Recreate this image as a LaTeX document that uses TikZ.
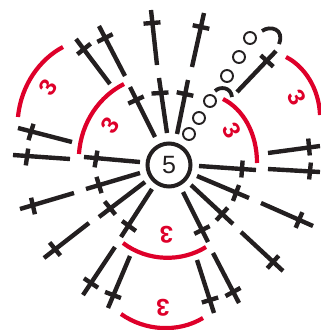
\documentclass[tikz,border=0pt]{standalone}
\usepackage{fontspec}
\setmainfont{Liberation Sans}
\usetikzlibrary{calc}
\definecolor{inkblack}{RGB}{35,31,32}
\definecolor{inkred}{RGB}{222,0,42}
\tikzset{
	stitchline/.style={draw=inkblack, line width=4.4pt},
	hookline/.style={draw=inkblack, line width=3.8pt},
	redarc/.style={draw=inkred, line width=4.2pt},
	chainloop/.style={
		draw=inkblack, circle, line width=1.9pt,
		minimum size=12pt, inner sep=0pt
	},
	ringnode/.style={
		draw=inkblack, circle, line width=4pt,
		minimum size=43pt, inner sep=0pt, text=inkblack, font=\fontsize{25}{25}\selectfont
	},
	countlabel/.style={text=inkred, inner sep=0pt, font=\fontsize{24}{24}\selectfont\bfseries},
}
\begin{document}
\begin{tikzpicture}[x=1pt,y=-1pt]
	\useasboundingbox (0,0) rectangle (321,330);

	\node[ringnode] (ring) at (169,165) {5};

	% stitches: inner end / outer end / bar
	\foreach \xa/\ya/\xb/\yb/\xc/\yc [count=\i] in {
		110/84/76/39/84/49, 125/76/99/26/105/38, 157/65/151/10/152/23,
		155/137/130/87/136/100, 72/142/18/128/31/132, 70/159/13/155/27/157,
		140/162/84/157/96/159, 167/133/159/78/160/93, 177/134/188/80/185/94,
		192/67/204/13/201/27, 237/92/276/51/267/61, 268/153/320/146/309/147,
		199/166/256/170/242/169, 268/169/320/172/310/171, 197/176/249/198/236/193,
		261/203/313/226/299/220, 191/185/233/224/222/214, 241/232/283/271/273/262,
		183/192/208/242/202/230, 213/253/239/303/233/292, 197/260/214/313/210/300,
		140/173/86/189/99/185, 74/193/20/209/33/206, 145/182/99/217/110/208,
		89/223/44/258/55/249, 152/189/121/237/129/226, 115/247/83/295/91/283,
		130/256/108/308/113/295}{
		\coordinate (in\i) at (\xa,\ya);
		\coordinate (out\i) at (\xb,\yb);
		\coordinate (bar\i) at (\xc,\yc);
		\draw[stitchline] (in\i) -- (out\i);
		\draw[stitchline] ($(bar\i)!8.5pt!90:(out\i)$) -- ($(bar\i)!8.5pt!-90:(out\i)$);
	}

	% chain
	\foreach \x/\y [count=\i] in {189/134, 199/118, 210/101, 227/76, 239/57, 250/38}{
		\node[chainloop] (loop\i) at (\x,\y) {};
	}
	\draw[hookline] (215,91) .. controls (220,86) and (231,87) .. (232,97);
	\draw[hookline] (262,31) .. controls (270,25) and (285,29) .. (279,44);

	% red groups
	\draw[redarc] (18,117) .. controls (21,85) and (40,59) .. (63,47);
	\draw[redarc] (79,154) .. controls (81,122) and (100,96) .. (124,84);
	\draw[redarc] (223,99) .. controls (243,109) and (257,133) .. (257,163);
	\draw[redarc] (286,57) .. controls (304,66) and (319,88) .. (320,115);
	\draw[redarc] (123,243) .. controls (148,262) and (182,262) .. (206,247);
	\draw[redarc] (121,314) .. controls (145,331) and (178,333) .. (203,318);

	\node[countlabel, rotate=57] (count1) at (48,87) {3};
	\node[countlabel, rotate=57] (count2) at (110,125) {3};
	\node[countlabel, rotate=-62] (count3) at (232,131) {3};
	\node[countlabel, rotate=-62] (count4) at (297,98) {3};
	\node[countlabel, rotate=180] (count5) at (166.5,235) {3};
	\node[countlabel, rotate=180] (count6) at (163,308) {3};
\end{tikzpicture}
\end{document}
